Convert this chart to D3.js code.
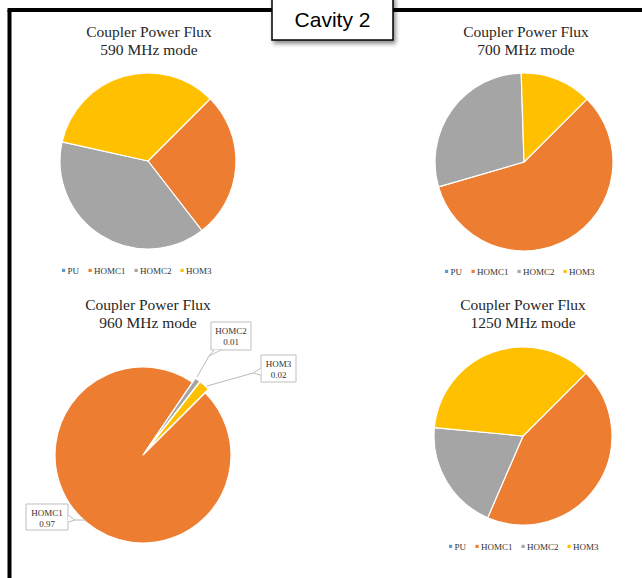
<!DOCTYPE html>
<html>
<head>
<meta charset="utf-8">
<script src="https://cdn.jsdelivr.net/npm/d3@7/dist/d3.min.js"></script>
<style>
  html, body { margin: 0; padding: 0; background: #fff; }
  svg { display: block; }
</style>
</head>
<body>
<svg id="chart" width="642" height="578"></svg>
<script>
// Share of coupler power flux per port, for each cavity mode
const categories = ["PU", "HOMC1", "HOMC2", "HOM3"];
const mode590  = [0, 0.27, 0.39, 0.34];
const mode700  = [0, 0.58, 0.29, 0.13];
const mode960  = [0, 0.97, 0.01, 0.02];
const mode1250 = [0, 0.44, 0.20, 0.36];
const modeNames = ["590 MHz mode", "700 MHz mode", "960 MHz mode", "1250 MHz mode"];
const chartTitle = "Coupler Power Flux";
const panelTitle = "Cavity 2";

const colors = d3.scaleOrdinal()
  .domain(categories)
  .range(["#5B9BD5", "#ED7D31", "#A5A5A5", "#FFC000"]);

const svg = d3.select("#chart");
const serif = "'Liberation Serif', 'Times New Roman', serif";

// Panel frame: thick left and top rules
const frame = svg.append("g").attr("stroke", "#000").attr("stroke-width", 4).attr("fill", "none");
frame.append("path").attr("d", "M9.5,10 V578");
frame.append("path").attr("d", "M7.5,10 H272");
frame.append("path").attr("d", "M393,10 H642");

// Panel heading box with drop shadow
const defs = svg.append("defs");
const shadow = defs.append("filter").attr("id", "shadow")
  .attr("x", "-20%").attr("y", "-20%").attr("width", "150%").attr("height", "160%");
shadow.append("feDropShadow").attr("dx", 2).attr("dy", 3).attr("stdDeviation", 2.2)
  .attr("flood-color", "#000").attr("flood-opacity", 0.45);

svg.append("rect")
  .attr("x", 272).attr("y", -4).attr("width", 121).attr("height", 44)
  .attr("fill", "#fff").attr("stroke", "#000").attr("stroke-width", 1.5)
  .attr("filter", "url(#shadow)");
svg.append("text")
  .attr("x", 332.5).attr("y", 27)
  .attr("text-anchor", "middle")
  .attr("font-family", "'Liberation Sans', Arial, sans-serif")
  .attr("font-size", 21)
  .attr("fill", "#000")
  .text(panelTitle);

const panels = [
  { values: mode590,  cx: 148, cy: 161, r: 88, tx: 149, ty: 37, legendY: 271, legendX: 137, legend: true },
  { values: mode700,  cx: 524, cy: 162, r: 89, tx: 526, ty: 37, legendY: 272, legendX: 520, legend: true },
  { values: mode960,  cx: 143, cy: 455, r: 88, tx: 148, ty: 310, legend: false, explode: [2, 3], callouts: true },
  { values: mode1250, cx: 523, cy: 436, r: 89, tx: 523, ty: 310, legendY: 547, legendX: 524, legend: true }
];

const pie = d3.pie()
  .sort(null)
  .startAngle(Math.PI / 4)
  .endAngle(Math.PI / 4 + 2 * Math.PI)
  .value(d => d.value);

panels.forEach((p, i) => {
  const g = svg.append("g");
  const data = categories.map((c, k) => ({ name: c, value: p.values[k], idx: k }));
  const arcs = pie(data);
  const arc = d3.arc().innerRadius(0).outerRadius(p.r);

  // Title, two lines
  const title = g.append("text")
    .attr("text-anchor", "middle")
    .attr("font-family", serif)
    .attr("font-size", 15.5)
    .attr("fill", "#262626");
  title.append("tspan").attr("x", p.tx).attr("y", p.ty).text(chartTitle);
  title.append("tspan").attr("x", p.tx).attr("y", p.ty + 18).text(modeNames[i]);

  const explodeBy = 5;
  const slices = g.append("g").attr("transform", `translate(${p.cx},${p.cy})`);
  slices.selectAll("path")
    .data(arcs.filter(a => a.value > 0))
    .join("path")
    .attr("d", arc)
    .attr("fill", d => colors(d.data.name))
    .attr("stroke", "#fff")
    .attr("stroke-width", 1.2)
    .attr("stroke-linejoin", "round")
    .attr("transform", d => {
      if (p.explode && p.explode.includes(d.data.idx)) {
        const m = (d.startAngle + d.endAngle) / 2;
        return `translate(${Math.sin(m) * explodeBy},${-Math.cos(m) * explodeBy})`;
      }
      return null;
    });

  // Legend row, items laid out by measured width
  if (p.legend) {
    const lg = g.append("g").attr("font-family", serif).attr("font-size", 9).attr("fill", "#333");
    let cursor = 0;
    const gap = 9;
    const itemG = lg.selectAll("g.item").data(categories).join("g").attr("class", "item");
    itemG.append("rect").attr("width", 3.2).attr("height", 3.2).attr("y", -5.2)
      .attr("fill", d => colors(d));
    itemG.append("text").attr("x", 5.5).text(d => d);
    itemG.each(function () {
      const w = this.getBBox().width;
      d3.select(this).attr("transform", `translate(${cursor},0)`);
      cursor += w + gap;
    });
    const total = cursor - gap;
    lg.attr("transform", `translate(${p.legendX - total / 2},${p.legendY + 3})`);
  }

  // Data callouts with leader lines
  if (p.callouts) {
    const cg = g.append("g").attr("font-family", serif).attr("font-size", 9).attr("fill", "#333");
    const boxes = {
      HOMC2: { x: 211, y: 322, w: 40, h: 28, tip: [209, 356], base: [[214, 350], [221, 350]], end: [197, 377] },
      HOM3:  { x: 261, y: 355, w: 35, h: 27, tip: [253, 373], base: [[261, 368], [261, 375]], end: [207, 386] },
      HOMC1: { x: 26,  y: 504, w: 42, h: 26, tip: [75, 520],  base: [[68, 515], [68, 522]], end: [86, 520] }
    };
    arcs.forEach(a => {
      const b = boxes[a.data.name];
      if (!b) return;
      cg.append("path")
        .attr("d", d3.line()([b.tip, b.end]))
        .attr("stroke", "#a6a6a6").attr("stroke-width", 0.8).attr("fill", "none");
      cg.append("path")
        .attr("d", `M${b.x},${b.y}H${b.x + b.w}V${b.y + b.h}H${b.x}Z`)
        .attr("fill", "#fff").attr("stroke", "#bfbfbf").attr("stroke-width", 1);
      cg.append("path")
        .attr("d", d3.line()([b.base[0], b.tip, b.base[1]]))
        .attr("fill", "#fff").attr("stroke", "#bfbfbf").attr("stroke-width", 1);
      const t = cg.append("text").attr("text-anchor", "middle");
      t.append("tspan").attr("x", b.x + b.w / 2).attr("y", b.y + 11.5).text(a.data.name);
      t.append("tspan").attr("x", b.x + b.w / 2).attr("y", b.y + 22.5).text(d3.format(".2f")(a.data.value));
    });
  }
});
</script>
</body>
</html>
